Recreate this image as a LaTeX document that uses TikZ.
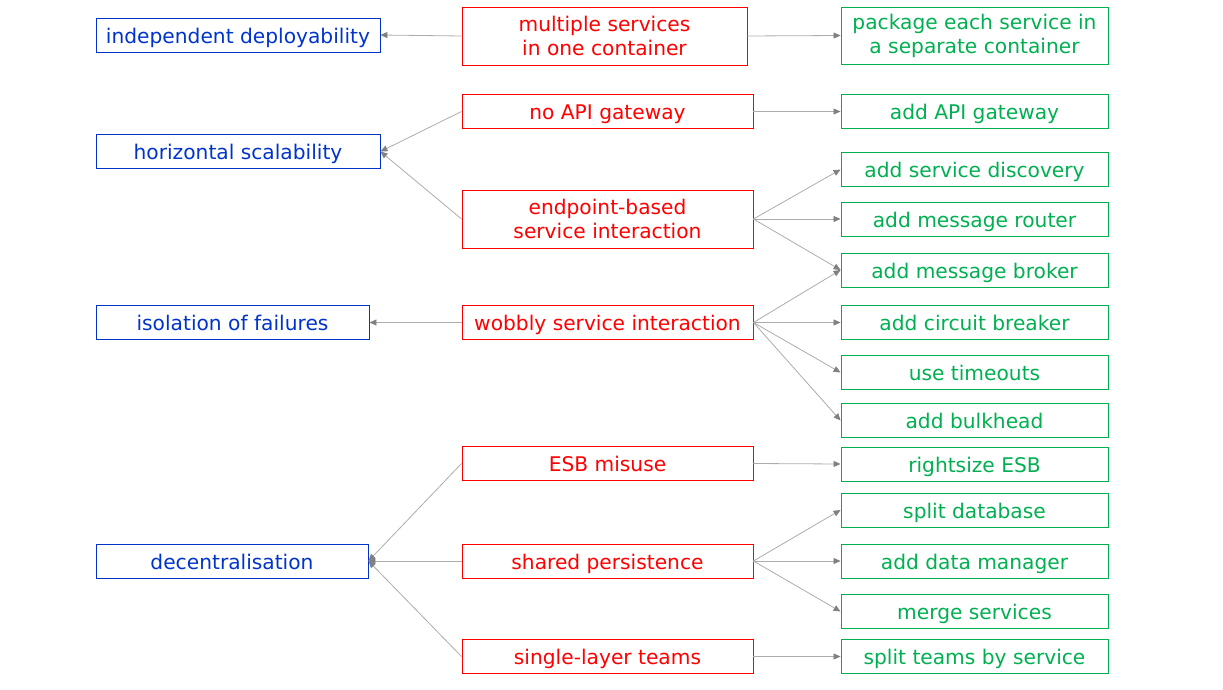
\documentclass[tikz,border=0pt]{standalone}
\usepackage{fontspec}
\setmainfont{DejaVu Sans}
\usetikzlibrary{arrows.meta}
\definecolor{qblue}{HTML}{0033CC}
\definecolor{sred}{HTML}{FF0000}
\definecolor{rgreen}{HTML}{00B050}
\begin{document}
\begin{tikzpicture}[x=1pt,y=-1pt,
  box/.style={rectangle, draw, line width=0.9pt, inner sep=0pt, minimum height=34pt,
    text height=18pt, text depth=1.5pt, align=center, font=\fontsize{20.2}{24}\selectfont},
  tall/.style={minimum height=58pt, text height={}, text depth={}},
  qual/.style={box, draw=qblue, text=qblue},
  smell/.style={box, draw=sred, text=sred, minimum width=291pt},
  refac/.style={box, draw=rgreen, text=rgreen, minimum width=267pt},
  edge/.style={draw=gray!65, line width=0.8pt, -{Triangle[length=7pt,width=6pt,color=gray,fill=gray]}}]
\useasboundingbox (0,0) rectangle (1223,690);
% qualities
\node[qual, minimum width=284pt] (qa0) at (238,35){independent deployability};
\node[qual, minimum width=284pt] (qa1) at (238,151.5){horizontal scalability};
\node[qual, minimum width=273pt] (qa2) at (232.5,322.5){isolation of failures};
\node[qual, minimum width=272pt] (qa3) at (232,561){decentralisation};
% smells
\node[smell, tall, minimum width=285pt] (sm0) at (604.5,36){multiple services\\in one container};
\node[smell] (sm1) at (607.5,111.5){no API gateway};
\node[smell, tall] (sm2) at (607.5,219){endpoint-based\\service interaction};
\node[smell] (sm3) at (607.5,322.5){wobbly service interaction};
\node[smell] (sm4) at (607.5,463.5){ESB misuse};
\node[smell] (sm5) at (607.5,561){shared persistence};
\node[smell] (sm6) at (607.5,656.5){single-layer teams};
% refactorings
\node[refac, tall, minimum height=57pt] (rf0) at (974.5,35.5){package each service in\\a separate container};
\node[refac] (rf1) at (974.5,111.5){add API gateway};
\node[refac] (rf2) at (974.5,169.5){add service discovery};
\node[refac] (rf3) at (974.5,219){add message router};
\node[refac] (rf4) at (974.5,270){add message broker};
\node[refac] (rf5) at (974.5,322.5){add circuit breaker};
\node[refac] (rf6) at (974.5,372.5){use timeouts};
\node[refac] (rf7) at (974.5,420.5){add bulkhead};
\node[refac] (rf8) at (974.5,464){rightsize ESB};
\node[refac] (rf9) at (974.5,510){split database};
\node[refac] (rf10) at (974.5,561){add data manager};
\node[refac] (rf11) at (974.5,611.5){merge services};
\node[refac] (rf12) at (974.5,656.5){split teams by service};
% smells to qualities
\draw[edge](sm0.west) -- (qa0.east);
\draw[edge](sm1.west) -- (qa1.east);
\draw[edge](sm2.west) -- (qa1.east);
\draw[edge](sm3.west) -- (qa2.east);
\draw[edge](sm4.west) -- (qa3.east);
\draw[edge](sm5.west) -- (qa3.east);
\draw[edge](sm6.west) -- (qa3.east);
% smells to refactorings
\draw[edge](sm0.east) -- (rf0.west);
\draw[edge](sm1.east) -- (rf1.west);
\draw[edge](sm2.east) -- (rf2.west);
\draw[edge](sm2.east) -- (rf3.west);
\draw[edge](sm2.east) -- (rf4.west);
\draw[edge](sm3.east) -- (rf4.west);
\draw[edge](sm3.east) -- (rf5.west);
\draw[edge](sm3.east) -- (rf6.west);
\draw[edge](sm3.east) -- (rf7.west);
\draw[edge](sm4.east) -- (rf8.west);
\draw[edge](sm5.east) -- (rf9.west);
\draw[edge](sm5.east) -- (rf10.west);
\draw[edge](sm5.east) -- (rf11.west);
\draw[edge](sm6.east) -- (rf12.west);
\end{tikzpicture}
\end{document}
